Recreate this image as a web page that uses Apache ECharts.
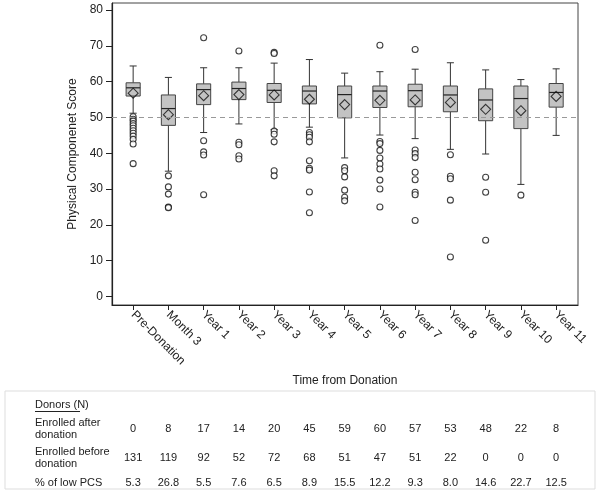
<!DOCTYPE html>
<html>
<head>
<meta charset="utf-8">
<script src="https://cdn.jsdelivr.net/npm/echarts@6/dist/echarts.min.js"></script>
<style>
html,body{margin:0;padding:0;background:#fff;}
#chart{width:600px;height:493px;}
</style>
</head>
<body>
<div id="chart"></div>
<script>
const categories = ['Pre-Donation','Month 3','Year 1','Year 2','Year 3','Year 4','Year 5','Year 6','Year 7','Year 8','Year 9','Year 10','Year 11'];
const whiskerLow  = [51.2, 35.0, 45.8, 48.2, 46.6, 47.3, 38.7, 45.1, 44.1, 41.1, 39.8, 31.3, 45.0];
const q1          = [56.0, 47.8, 53.6, 55.0, 54.2, 53.8, 49.9, 52.8, 53.0, 51.6, 49.1, 46.9, 52.9];
const median      = [58.3, 52.5, 57.8, 58.1, 57.6, 57.4, 56.4, 57.4, 57.5, 56.3, 54.9, 55.3, 57.0];
const q3          = [59.7, 56.3, 59.4, 59.9, 59.5, 58.8, 58.8, 58.8, 59.3, 58.8, 58.0, 58.8, 59.5];
const whiskerHigh = [64.4, 61.2, 63.9, 63.9, 65.2, 66.2, 62.4, 62.8, 63.5, 65.3, 63.3, 60.6, 63.6];
const means       = [56.8, 50.8, 56.1, 56.4, 56.3, 55.1, 53.6, 54.8, 54.9, 54.2, 52.3, 51.9, 55.9];
const outliers = [
  [50.2, 49.5, 49.0, 48.3, 47.7, 47.0, 46.3, 45.6, 44.8, 43.9, 42.6, 37.1],
  [33.7, 30.6, 28.6, 25.0, 24.8],
  [72.3, 43.5, 40.4, 39.5, 28.4],
  [68.6, 43.1, 42.4, 39.3, 38.4],
  [68.2, 67.9, 46.2, 45.3, 43.2, 35.1, 33.7],
  [45.8, 45.2, 44.5, 43.2, 37.9, 35.8, 35.3, 29.2, 23.4],
  [36.0, 35.1, 33.4, 29.7, 27.7, 26.7],
  [70.2, 43.3, 42.7, 40.8, 38.7, 37.0, 35.6, 32.5, 30.0, 25.0],
  [69.0, 40.9, 39.9, 38.8, 34.7, 32.6, 29.1, 28.4, 21.2],
  [39.6, 33.6, 32.9, 26.9, 11.0],
  [33.3, 29.1, 15.7],
  [28.3],
  []
];
const referenceLine = 50;
const yTicks = [0, 10, 20, 30, 40, 50, 60, 70, 80];
const enrolledAfter  = [0, 8, 17, 14, 20, 45, 59, 60, 57, 53, 48, 22, 8];
const enrolledBefore = [131, 119, 92, 52, 72, 68, 51, 47, 51, 22, 0, 0, 0];
const lowPCS = ['5.3','26.8','5.5','7.6','6.5','8.9','15.5','12.2','9.3','8.0','14.6','22.7','12.5'];

const FONT = "'Liberation Sans', Arial, sans-serif";
const chart = echarts.init(document.getElementById('chart'), null, {renderer: 'canvas'});

const boxData = categories.map((c, i) => [i, whiskerLow[i], q1[i], median[i], q3[i], whiskerHigh[i]]);
const meanData = categories.map((c, i) => [i, means[i]]);
const outlierData = [];
outliers.forEach((arr, i) => arr.forEach(v => outlierData.push([i, v])));
const xIdx = categories.map((c, i) => i);

chart.setOption({
  animation: false,
  backgroundColor: '#fff',
  grid: {left: 112, right: 22, top: 3, bottom: 188, show: true, borderColor: '#444', borderWidth: 1, backgroundColor: 'transparent'},
  xAxis: {
    type: 'value', min: -0.6, max: 12.62,
    name: 'Time from Donation', nameLocation: 'middle', nameGap: 66,
    nameTextStyle: {fontFamily: FONT, fontSize: 12, color: '#222'},
    splitLine: {show: false},
    axisLine: {show: true, onZero: false, lineStyle: {color: '#222', width: 1.2}},
    axisTick: {show: true, length: 5, customValues: xIdx, lineStyle: {color: '#222'}},
    axisLabel: {customValues: xIdx, rotate: -45, margin: 8, fontFamily: FONT, fontSize: 12, color: '#222',
      formatter: v => categories[Math.round(v)] || ''}
  },
  yAxis: {
    type: 'value', min: -2.4, max: 82,
    name: 'Physical Componenet Score', nameLocation: 'middle', nameGap: 32,
    nameTextStyle: {fontFamily: FONT, fontSize: 12, color: '#222'},
    splitLine: {show: false},
    axisLine: {show: true, onZero: false, lineStyle: {color: '#222', width: 1.2}},
    axisTick: {show: true, length: 6, customValues: yTicks, lineStyle: {color: '#222'}},
    axisLabel: {customValues: yTicks, margin: 9, fontFamily: FONT, fontSize: 12, color: '#222'}
  },
  series: [
    {
      type: 'custom',
      data: boxData,
      encode: {x: 0, y: [1, 2, 3, 4, 5]},
      renderItem: function (params, api) {
        const x = api.value(0);
        const lo = api.coord([x, api.value(1)]);
        const a = api.coord([x, api.value(2)]);
        const md = api.coord([x, api.value(3)]);
        const b = api.coord([x, api.value(4)]);
        const hi = api.coord([x, api.value(5)]);
        const bw = api.size([0.4, 0])[0];
        const cw = api.size([0.2, 0])[0];
        const cx = lo[0];
        const lineStyle = {stroke: '#333', lineWidth: 1, fill: null};
        return {
          type: 'group',
          children: [
            {type: 'line', shape: {x1: cx, y1: lo[1], x2: cx, y2: a[1]}, style: lineStyle},
            {type: 'line', shape: {x1: cx, y1: b[1], x2: cx, y2: hi[1]}, style: lineStyle},
            {type: 'line', shape: {x1: cx - cw / 2, y1: lo[1], x2: cx + cw / 2, y2: lo[1]}, style: lineStyle},
            {type: 'line', shape: {x1: cx - cw / 2, y1: hi[1], x2: cx + cw / 2, y2: hi[1]}, style: lineStyle},
            {type: 'rect', shape: {x: cx - bw / 2, y: b[1], width: bw, height: a[1] - b[1]}, style: {fill: '#c3c3c3', stroke: '#444', lineWidth: 1}},
            {type: 'line', shape: {x1: cx - bw / 2, y1: md[1], x2: cx + bw / 2, y2: md[1]}, style: {stroke: '#222', lineWidth: 1.2}}
          ]
        };
      },
      markLine: {
        silent: true, symbol: ['none', 'none'], label: {show: false},
        lineStyle: {color: '#999', type: [5, 4], width: 1.2},
        data: [{yAxis: referenceLine}]
      },
      z: 2
    },
    {
      type: 'scatter', data: outlierData, symbol: 'circle', symbolSize: 6,
      itemStyle: {color: '#fff', borderColor: '#111', borderWidth: 1.1}, z: 3
    },
    {
      type: 'scatter', data: meanData, symbol: 'diamond', symbolSize: [10, 10],
      itemStyle: {color: 'rgba(0,0,0,0)', borderColor: '#111', borderWidth: 1.1}, z: 4
    }
  ]
});

// Table below the chart, columns aligned to the category positions
const colX = xIdx.map(i => chart.convertToPixel({xAxisIndex: 0}, i));
const tStyle = {fontFamily: FONT, fontSize: 11, fill: '#222'};
const g = [];
g.push({type: 'rect', shape: {x: 5, y: 391, width: 590, height: 98}, style: {fill: 'none', stroke: '#ddd', lineWidth: 1}});
g.push({type: 'text', x: 35, y: 405, style: Object.assign({text: 'Donors (N)', verticalAlign: 'middle'}, tStyle)});
g.push({type: 'line', shape: {x1: 35, y1: 411.5, x2: 80, y2: 411.5}, style: {stroke: '#222', lineWidth: 1}});
g.push({type: 'text', x: 35, y: 429, style: Object.assign({text: 'Enrolled after\ndonation', verticalAlign: 'middle', lineHeight: 12}, tStyle)});
g.push({type: 'text', x: 35, y: 458, style: Object.assign({text: 'Enrolled before\ndonation', verticalAlign: 'middle', lineHeight: 12}, tStyle)});
g.push({type: 'text', x: 35, y: 483, style: Object.assign({text: '% of low PCS', verticalAlign: 'middle'}, tStyle)});
const rows = [[enrolledAfter, 429], [enrolledBefore, 458], [lowPCS, 483]];
rows.forEach(([arr, y]) => {
  arr.forEach((v, i) => {
    g.push({type: 'text', x: colX[i], y: y, style: Object.assign({text: String(v), align: 'center', verticalAlign: 'middle'}, tStyle)});
  });
});
chart.setOption({graphic: g});
</script>
</body>
</html>
